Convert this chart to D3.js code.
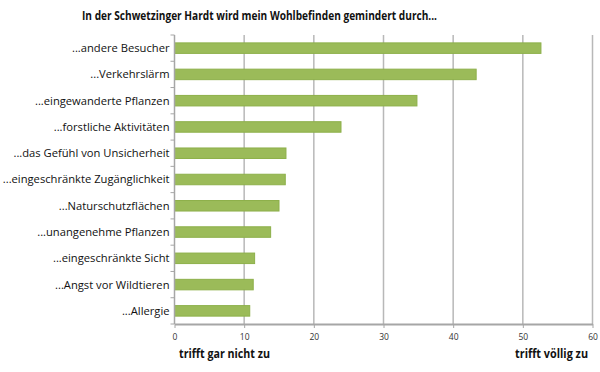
<!DOCTYPE html>
<html>
<head>
<meta charset="utf-8">
<script src="https://cdn.jsdelivr.net/npm/d3@7"></script>
<style>
  body { margin: 0; background: #fff; }
  text { font-family: "Open Sans", "Liberation Sans", sans-serif; }
</style>
</head>
<body>
<svg id="chart" width="600" height="372"></svg>
<script>
// data
const categories = [
  "...andere Besucher",
  "...Verkehrslärm",
  "...eingewanderte Pflanzen",
  "...forstliche Aktivitäten",
  "...das Gefühl von Unsicherheit",
  "...eingeschränkte Zugänglichkeit",
  "...Naturschutzflächen",
  "...unangenehme Pflanzen",
  "...eingeschränkte Sicht",
  "...Angst vor Wildtieren",
  "...Allergie"
];
const values = [52.6, 43.3, 34.8, 23.9, 16.0, 15.9, 15.0, 13.8, 11.5, 11.3, 10.8];
const xTicks = [0, 10, 20, 30, 40, 50, 60];
const title = "In der Schwetzinger Hardt wird mein Wohlbefinden gemindert durch...";
const lowLabel = "trifft gar nicht zu";
const highLabel = "trifft völlig zu";

const svg = d3.select("#chart");
const margin = { top: 35, right: 7.5, bottom: 48, left: 174.5 };
const width = 600 - margin.left - margin.right;
const height = 372 - margin.top - margin.bottom;

const x = d3.scaleLinear().domain([0, 60]).range([0, width]);
const y = d3.scaleBand().domain(categories).range([0, height]).paddingInner(0.6).paddingOuter(0.3);

const g = svg.append("g").attr("transform", `translate(${margin.left},${margin.top})`);

// gridlines
g.append("g")
  .selectAll("line")
  .data(xTicks.slice(1))
  .join("line")
  .attr("x1", d => x(d)).attr("x2", d => x(d))
  .attr("y1", 0).attr("y2", height)
  .attr("stroke", "#b8b8b8")
  .attr("stroke-width", 1.5);

// bars
g.append("g")
  .selectAll("rect")
  .data(values)
  .join("rect")
  .attr("x", x(0))
  .attr("y", (d, i) => y(categories[i]))
  .attr("width", d => x(d) - x(0))
  .attr("height", y.bandwidth())
  .attr("fill", "#9bbb59")
  .attr("stroke", "#8db04a")
  .attr("stroke-width", 1);

// y axis: line + ticks at band boundaries
g.append("line")
  .attr("x1", 0).attr("x2", 0).attr("y1", 0).attr("y2", height)
  .attr("stroke", "#a6a6a6").attr("stroke-width", 1.5);
const step = y.step();
g.append("g")
  .selectAll("line")
  .data(d3.range(categories.length + 1))
  .join("line")
  .attr("x1", -4).attr("x2", 0)
  .attr("y1", i => i * step).attr("y2", i => i * step)
  .attr("stroke", "#a6a6a6").attr("stroke-width", 1);

g.append("g")
  .selectAll("text")
  .data(categories)
  .join("text")
  .attr("x", -5)
  .attr("y", d => y(d) + y.bandwidth() / 2)
  .attr("dy", "0.35em")
  .attr("text-anchor", "end")
  .attr("font-size", 11.2)
  .attr("fill", "#111")
  .text(d => d);

// x axis
const xAxis = g.append("g")
  .attr("transform", `translate(0,${height})`)
  .call(d3.axisBottom(x).tickValues(xTicks).tickSize(4).tickSizeOuter(0).tickPadding(6));
xAxis.select(".domain").attr("stroke", "#a6a6a6").attr("stroke-width", 2);
xAxis.selectAll(".tick line").attr("stroke", "#a6a6a6");
xAxis.selectAll(".tick text")
  .attr("font-family", "\"Open Sans\", sans-serif")
  .attr("font-size", 8.5)
  .attr("fill", "#333");

// title (Calibri-like width, squeezed)
svg.append("text")
  .attr("x", 82).attr("y", 20)
  .attr("font-size", 13)
  .attr("font-weight", "bold")
  .attr("fill", "#111")
  .attr("textLength", 355)
  .attr("lengthAdjust", "spacingAndGlyphs")
  .text(title);

// axis end labels
svg.append("text")
  .attr("x", 179).attr("y", 358)
  .attr("font-size", 12).attr("font-weight", "bold").attr("fill", "#111")
  .attr("textLength", 91).attr("lengthAdjust", "spacingAndGlyphs")
  .text(lowLabel);
svg.append("text")
  .attr("x", 515).attr("y", 358)
  .attr("font-size", 12).attr("font-weight", "bold").attr("fill", "#111")
  .attr("textLength", 73).attr("lengthAdjust", "spacingAndGlyphs")
  .text(highLabel);
</script>
</body>
</html>
